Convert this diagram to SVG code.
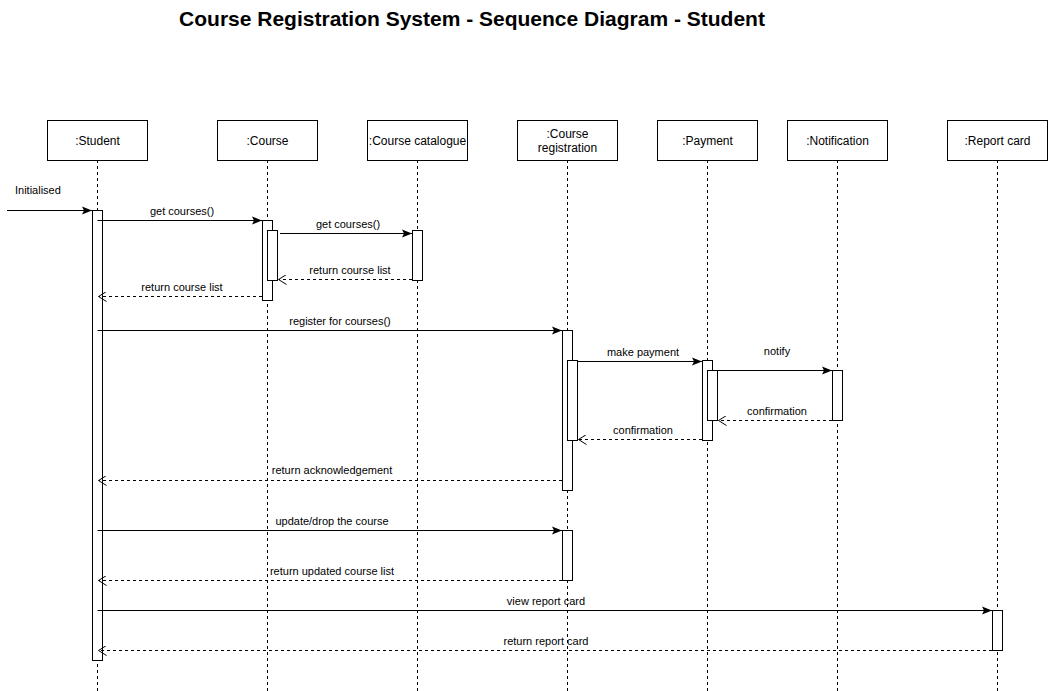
<svg xmlns="http://www.w3.org/2000/svg" width="1048" height="691" viewBox="0 0 1048 691">
<defs>
<marker id="block" viewBox="0 0 10 10" refX="10" refY="5" markerWidth="10" markerHeight="10" markerUnits="userSpaceOnUse" orient="auto">
<path d="M0,1 L10,5 L0,9 L2,5 Z" fill="#000"/>
</marker>
<marker id="open" viewBox="0 0 10 10" refX="8.5" refY="5" markerWidth="10" markerHeight="10" markerUnits="userSpaceOnUse" orient="auto">
<path d="M1,0 L9,5 L1,10" fill="none" stroke="#000" stroke-width="1"/>
</marker>
</defs>
<style>
text{font-family:"Liberation Sans",Arial,sans-serif;fill:#000}
.box{fill:#fff;stroke:#000;stroke-width:1}
.life{stroke:#000;stroke-dasharray:3,3;fill:none}
.act{fill:#fff;stroke:#000;stroke-width:1}
.name{font-size:12px;text-anchor:middle}
.lbl{font-size:11px;text-anchor:middle}
.msg{stroke:#000;fill:none;marker-end:url(#block)}
.ret{stroke:#000;fill:none;stroke-dasharray:3,3;marker-end:url(#open)}
</style>
<rect width="1048" height="691" fill="#fff"/>
<text x="472" y="26" font-size="21" font-weight="bold" text-anchor="middle">Course Registration System - Sequence Diagram - Student</text>

<g id="student">
<line class="life" x1="97.5" y1="160" x2="97.5" y2="691"/>
<rect class="box" x="47.5" y="120.5" width="100" height="40"/>
<text class="name" x="97.5" y="145">:Student</text>
<rect class="act" x="92.5" y="210.5" width="10" height="450"/>
</g>
<g id="course">
<line class="life" x1="267.5" y1="160" x2="267.5" y2="691"/>
<rect class="box" x="217.5" y="120.5" width="100" height="40"/>
<text class="name" x="267.5" y="145">:Course</text>
<rect class="act" x="262.5" y="220.5" width="10" height="80"/>
<rect class="act" x="267.5" y="230.5" width="10" height="50"/>
</g>
<g id="catalogue">
<line class="life" x1="417.5" y1="160" x2="417.5" y2="691"/>
<rect class="box" x="367.5" y="120.5" width="100" height="40"/>
<text class="name" x="417.5" y="145">:Course catalogue</text>
<rect class="act" x="412.5" y="230.5" width="10" height="50"/>
</g>
<g id="registration">
<line class="life" x1="567.5" y1="160" x2="567.5" y2="691"/>
<rect class="box" x="517.5" y="120.5" width="100" height="40"/>
<text class="name" x="567.5" y="138">:Course</text>
<text class="name" x="567.5" y="152">registration</text>
<rect class="act" x="562.5" y="330.5" width="10" height="160"/>
<rect class="act" x="567.5" y="360.5" width="10" height="80"/>
<rect class="act" x="562.5" y="530.5" width="10" height="50"/>
</g>
<g id="payment">
<line class="life" x1="707.5" y1="160" x2="707.5" y2="691"/>
<rect class="box" x="657.5" y="120.5" width="100" height="40"/>
<text class="name" x="707.5" y="145">:Payment</text>
<rect class="act" x="702.5" y="360.5" width="10" height="80"/>
<rect class="act" x="707.5" y="370.5" width="10" height="50"/>
</g>
<g id="notification">
<line class="life" x1="837.5" y1="160" x2="837.5" y2="691"/>
<rect class="box" x="787.5" y="120.5" width="100" height="40"/>
<text class="name" x="837.5" y="145">:Notification</text>
<rect class="act" x="832.5" y="370.5" width="10" height="50"/>
</g>
<g id="reportcard">
<line class="life" x1="997.5" y1="160" x2="997.5" y2="691"/>
<rect class="box" x="947.5" y="120.5" width="100" height="40"/>
<text class="name" x="997.5" y="145">:Report card</text>
<rect class="act" x="992.5" y="610.5" width="10" height="40"/>
</g>

<g id="connectors">
<line class="msg" x1="7" y1="210.5" x2="92" y2="210.5"/>
<text x="15" y="194" font-size="11">Initialised</text>

<line class="msg" x1="97.5" y1="220.5" x2="262" y2="220.5"/>
<text class="lbl" x="182" y="215">get courses()</text>

<line class="msg" x1="280" y1="233.5" x2="412" y2="233.5"/>
<text class="lbl" x="348" y="228">get courses()</text>

<line class="ret" x1="412" y1="279.5" x2="279" y2="279.5"/>
<text class="lbl" x="350" y="274">return course list</text>

<line class="ret" x1="262" y1="296.5" x2="99" y2="296.5"/>
<text class="lbl" x="182" y="291">return course list</text>

<line class="msg" x1="97.5" y1="330.5" x2="562" y2="330.5"/>
<text class="lbl" x="340" y="325">register for courses()</text>

<line class="msg" x1="577.5" y1="361.5" x2="702" y2="361.5"/>
<text class="lbl" x="643" y="356">make payment</text>

<line class="msg" x1="717.5" y1="370.5" x2="832" y2="370.5"/>
<text class="lbl" x="777" y="355">notify</text>

<line class="ret" x1="832" y1="420.5" x2="719" y2="420.5"/>
<text class="lbl" x="777" y="415">confirmation</text>

<line class="ret" x1="702" y1="439.5" x2="579" y2="439.5"/>
<text class="lbl" x="643" y="434">confirmation</text>

<line class="ret" x1="562" y1="480.5" x2="99" y2="480.5"/>
<text class="lbl" x="332" y="474">return acknowledgement</text>

<line class="msg" x1="97.5" y1="530.5" x2="562" y2="530.5"/>
<text class="lbl" x="332" y="525">update/drop the course</text>

<line class="ret" x1="562" y1="580.5" x2="99" y2="580.5"/>
<text class="lbl" x="332" y="575">return updated course list</text>

<line class="msg" x1="97.5" y1="610.5" x2="992" y2="610.5"/>
<text class="lbl" x="546" y="605">view report card</text>

<line class="ret" x1="992" y1="650.5" x2="99" y2="650.5"/>
<text class="lbl" x="546" y="645">return report card</text>
</g>
</svg>
